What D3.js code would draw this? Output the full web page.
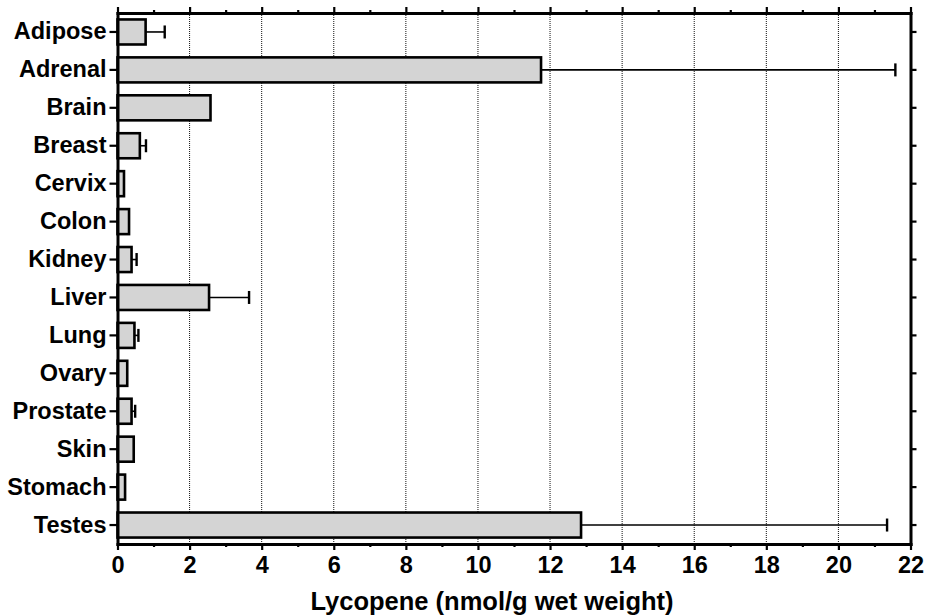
<!DOCTYPE html>
<html>
<head>
<meta charset="utf-8">
<script src="https://cdn.jsdelivr.net/npm/d3@7"></script>
<style>
  body { margin: 0; background: #fff; }
  svg { display: block; font-family: "Liberation Sans", Arial, Helvetica, sans-serif; }
</style>
</head>
<body>
<svg></svg>
<script>
// tissue lycopene, mean and SD (nmol/g wet weight)
var tissues = ['Adipose', 'Adrenal', 'Brain', 'Breast', 'Cervix', 'Colon', 'Kidney',
    'Liver', 'Lung', 'Ovary', 'Prostate', 'Skin', 'Stomach', 'Testes'];
var means = [0.78, 11.75, 2.58, 0.62, 0.18, 0.32, 0.39, 2.54, 0.47, 0.27, 0.39, 0.45, 0.21, 12.86];
var sds = [0.53, 9.83, null, 0.17, null, null, 0.14, 1.11, 0.11, null, 0.1, null, null, 8.49];
var majorTicks = [0, 2, 4, 6, 8, 10, 12, 14, 16, 18, 20, 22];
var minorTicks = [1, 3, 5, 7, 9, 11, 13, 15, 17, 19, 21];
var xTitle = 'Lycopene (nmol/g wet weight)';

var margin = { top: 13, right: 16.5, bottom: 72, left: 117.5 };
var size = { w: 927 - margin.left - margin.right, h: 616 - margin.top - margin.bottom };

var svg = d3.select('svg')
    .attr('width', 927)
    .attr('height', 616);
var chart = svg.append('g')
    .attr('transform', 'translate(' + margin.left + ',' + margin.top + ')');

var x = d3.scaleLinear().domain([0, 22]).range([0, size.w]);
var y = d3.scaleBand().domain(tissues).range([0, size.h])
    .paddingInner(0.34).paddingOuter(0.17);

var data = tissues.map((t, i) => ({ tissue: t, mean: means[i], sd: sds[i] }));

// dotted vertical gridlines
chart.append('g')
    .selectAll('line')
    .data(majorTicks.filter(d => d > 0 && d < 22))
    .enter()
    .append('line')
    .attr('x1', d => x(d)).attr('x2', d => x(d))
    .attr('y1', 0).attr('y2', size.h)
    .attr('stroke', '#111')
    .attr('stroke-width', 1)
    .attr('stroke-dasharray', '1,1');

// error bars (drawn first so the bar outline covers the start)
var err = chart.append('g')
    .selectAll('g')
    .data(data.filter(d => d.sd != null))
    .enter()
    .append('g');
err.append('line')
    .attr('x1', d => x(d.mean)).attr('x2', d => x(d.mean + d.sd))
    .attr('y1', d => y(d.tissue) + y.bandwidth() / 2)
    .attr('y2', d => y(d.tissue) + y.bandwidth() / 2)
    .attr('stroke', '#000').attr('stroke-width', 1.6);
err.append('line')
    .attr('x1', d => x(d.mean + d.sd)).attr('x2', d => x(d.mean + d.sd))
    .attr('y1', d => y(d.tissue) + y.bandwidth() / 2 - 6.5)
    .attr('y2', d => y(d.tissue) + y.bandwidth() / 2 + 6.5)
    .attr('stroke', '#000').attr('stroke-width', 2.4);

// bars
chart.append('g')
    .selectAll('rect')
    .data(data)
    .enter()
    .append('rect')
    .attr('x', x(0))
    .attr('y', d => y(d.tissue))
    .attr('width', d => x(d.mean) - x(0))
    .attr('height', y.bandwidth())
    .attr('fill', '#d4d4d4')
    .attr('stroke', '#000')
    .attr('stroke-width', 2.6);

function styleAxis(g) {
    g.select('.domain').attr('stroke-width', 3).attr('stroke-linecap', 'square');
    g.selectAll('.tick line').attr('stroke-width', 2.2);
    g.selectAll('text').attr('font-size', 23.5).attr('font-weight', 'bold').attr('fill', '#000');
}

// bottom axis
chart.append('g')
    .attr('transform', `translate(0, ${size.h})`)
    .call(d3.axisBottom(x).tickValues(majorTicks).tickSize(6).tickPadding(6).tickSizeOuter(0))
    .call(styleAxis);
chart.append('g')
    .attr('transform', `translate(0, ${size.h})`)
    .call(d3.axisBottom(x).tickValues(minorTicks).tickSize(3).tickFormat(''))
    .call(g => g.select('.domain').remove())
    .call(styleAxis);

// top axis
chart.append('g')
    .call(d3.axisTop(x).tickValues(majorTicks).tickSize(6).tickFormat('').tickSizeOuter(0))
    .call(styleAxis);
chart.append('g')
    .call(d3.axisTop(x).tickValues(minorTicks).tickSize(3).tickFormat(''))
    .call(g => g.select('.domain').remove())
    .call(styleAxis);

// left axis with tissue names
chart.append('g')
    .call(d3.axisLeft(y).tickSize(8).tickPadding(3).tickSizeOuter(0))
    .call(styleAxis);

// right axis
chart.append('g')
    .attr('transform', `translate(${size.w}, 0)`)
    .call(d3.axisRight(y).tickSize(6).tickFormat('').tickSizeOuter(0))
    .call(styleAxis);

// axis title
svg.append('text')
    .attr('x', 492)
    .attr('y', 610)
    .attr('text-anchor', 'middle')
    .attr('font-size', 25.5)
    .attr('font-weight', 'bold')
    .text(xTitle);
</script>
</body>
</html>
